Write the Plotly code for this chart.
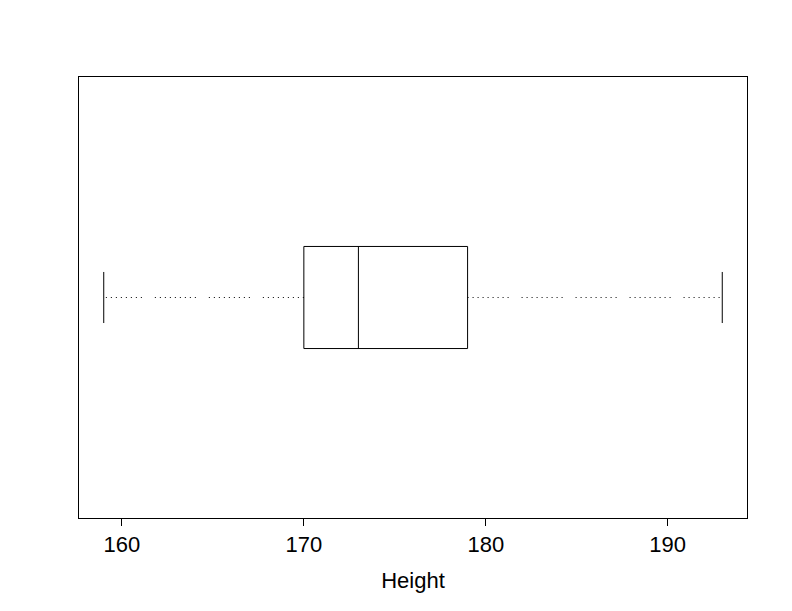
import plotly.graph_objects as go

# Five-number summary of Height
whisker_low = 159
q1 = 170
median = 173
q3 = 179
whisker_high = 193

tick_vals = [160, 170, 180, 190]
tick_text = ["160", "170", "180", "190"]
axis_title = "Height"

pos = 1.0
box_half = 0.125
cap_half = 0.0625

FONT = "Liberation Sans, Arial, sans-serif"
dash_pat = ",".join(["1px,4px"] * 8 + ["1px,13px"])

fig = go.Figure()
line = dict(color="black", width=1)
# Box
fig.add_trace(go.Scatter(x=[q1, q3, q3, q1, q1],
                         y=[pos - box_half, pos - box_half, pos + box_half, pos + box_half, pos - box_half],
                         mode="lines", line=line, hoverinfo="skip"))
# Median
fig.add_trace(go.Scatter(x=[median, median], y=[pos - box_half, pos + box_half],
                         mode="lines", line=line, hoverinfo="skip"))
# Whiskers (dotted)
fig.add_trace(go.Scatter(x=[q1, whisker_low], y=[pos, pos], mode="lines",
                         line=dict(color="black", width=1, dash=dash_pat), hoverinfo="skip"))
fig.add_trace(go.Scatter(x=[q3, whisker_high], y=[pos, pos], mode="lines",
                         line=dict(color="black", width=1, dash=dash_pat), hoverinfo="skip"))
# Staples
fig.add_trace(go.Scatter(x=[whisker_low, whisker_low], y=[pos - cap_half, pos + cap_half],
                         mode="lines", line=line, hoverinfo="skip"))
fig.add_trace(go.Scatter(x=[whisker_high, whisker_high], y=[pos - cap_half, pos + cap_half],
                         mode="lines", line=line, hoverinfo="skip"))

lo, hi = whisker_low, whisker_high
pad = (hi - lo) * 0.04
fig.update_layout(
    width=792, height=611,
    margin=dict(l=71, r=53, t=69, b=101),
    paper_bgcolor="white", plot_bgcolor="white",
    showlegend=False,
    font=dict(family=FONT, color="black", size=22),
    xaxis=dict(range=[lo - pad, hi + pad], tickmode="array", tickvals=tick_vals, ticktext=tick_text,
               ticks="outside", ticklen=7, tickcolor="black", tickwidth=1,
               showline=True, linecolor="black", linewidth=1, mirror=True,
               showgrid=False, zeroline=False,
               tickfont=dict(size=22, family=FONT),
               title=dict(text=axis_title, font=dict(size=22, family=FONT), standoff=16)),
    yaxis=dict(range=[0.46, 1.54], showticklabels=False, ticks="",
               showline=True, linecolor="black", linewidth=1, mirror=True,
               showgrid=False, zeroline=False),
)
fig.write_html("out.html")
